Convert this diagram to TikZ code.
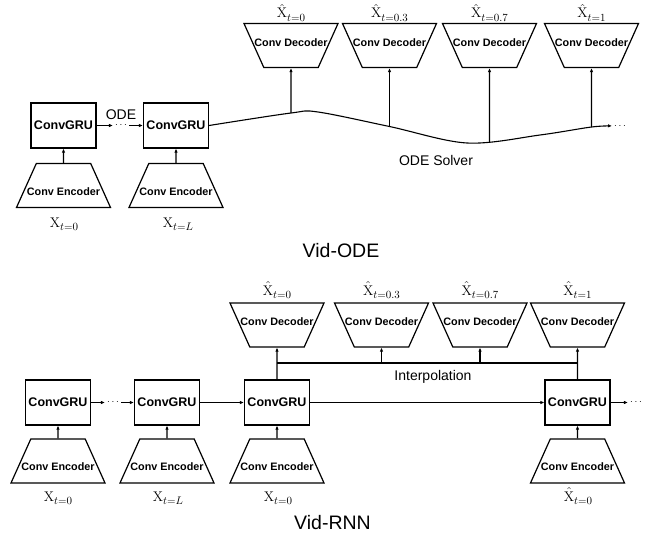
\documentclass[tikz,border=0pt]{standalone}
\usepackage{fontspec}
\setsansfont{Liberation Sans}
\usetikzlibrary{shapes.geometric,arrows.meta}
\newcommand{\tz}{\phantom{\rule{1pt}{1pt}}}
\newcommand{\lab}[2]{$#1$\raisebox{-3.5pt}{\fontsize{11}{12}\selectfont$#2$}}
\begin{document}
\begin{tikzpicture}[x=1pt,y=-1pt,
 gru/.style={draw,line width=1.2pt,minimum width=65pt,minimum height=45pt,inner sep=0pt,font=\sffamily\bfseries\fontsize{12.5}{14}\selectfont},
 enc/.style={draw,line width=1.2pt,trapezium,trapezium angle=70,trapezium stretches=true,minimum width=94pt,minimum height=44pt,inner sep=0pt},
 dec/.style={enc,shape border rotate=180},
 lbl/.style={font=\sffamily\bfseries\fontsize{10.8}{12}\selectfont,inner sep=0pt},
 mth/.style={font=\fontsize{14}{16}\selectfont,inner sep=0pt,anchor=base},
 txt/.style={font=\sffamily\fontsize{14}{16}\selectfont,inner sep=0pt,anchor=base},
 ttl/.style={font=\sffamily\fontsize{19.5}{22}\selectfont,inner sep=0pt,anchor=base},
 dts/.style={inner sep=2pt,font=\fontsize{10}{12}\selectfont},
 arr/.style={line width=1.1pt,-{Latex[length=4pt,width=3.5pt]}},
 ln/.style={line width=1.1pt}]
\useasboundingbox (0,0) rectangle (659,538);

% ---------------- Vid-ODE ----------------
\node[gru] (g1) at (63.5,125.5) {ConvGRU};
\node[gru] (g2) at (176,125.5) {ConvGRU};
\node[enc,label={[lbl,yshift=-6pt]center:Conv Encoder}] (e1) at (63.5,185.5) {\tz};
\node[enc,label={[lbl,yshift=-6pt]center:Conv Encoder}] (e2) at (176,185.5) {\tz};
\node[mth] (x1) at (64,227) {\lab{\mathrm{X}}{t{=}0}};
\node[mth] (x2) at (178,227) {\lab{\mathrm{X}}{t{=}L}};
\draw[arr] (e1.north) -- (g1.south);
\draw[arr] (e2.north) -- (g2.south);
\node[dts] (d1) at (121,125.5) {$\cdots$};
\draw[arr] (g1.east) -- (d1.west);
\draw[arr] (d1.east) -- (g2.west);
\node[txt] (ode) at (121,119) {ODE};

\node[dec,label={[lbl,yshift=3pt]center:Conv Decoder}] (o1) at (291,45.5) {\tz};
\node[dec,label={[lbl,yshift=3pt]center:Conv Decoder}] (o2) at (389.5,45.5) {\tz};
\node[dec,label={[lbl,yshift=3pt]center:Conv Decoder}] (o3) at (489.5,45.5) {\tz};
\node[dec,label={[lbl,yshift=3pt]center:Conv Decoder}] (o4) at (591.5,45.5) {\tz};
\node[mth] (y1) at (291,17.5) {\lab{\hat{\mathrm{X}}}{t{=}0}};
\node[mth] (y2) at (389.5,17.5) {\lab{\hat{\mathrm{X}}}{t{=}0.3}};
\node[mth] (y3) at (489.5,17.5) {\lab{\hat{\mathrm{X}}}{t{=}0.7}};
\node[mth] (y4) at (591.5,17.5) {\lab{\hat{\mathrm{X}}}{t{=}1}};

\coordinate (c1) at (291,113);
\coordinate (c2) at (389.5,126.5);
\coordinate (c3) at (489.5,142);
\coordinate (c4) at (591.5,127);
\coordinate (ca) at (318,112);
\coordinate (cb) at (467,143);
\coordinate (cc) at (540,135);
\node[dts] (d2) at (620,126) {$\cdots$};
\draw[arr] plot[smooth,tension=0.55] coordinates {(g2.east) (c1) (ca) (c2) (cb) (cc) (c4) (d2.west)};
\draw[arr] (c1) -- (o1);
\draw[arr] (c2) -- (o2);
\draw[arr] (c3) -- (o3);
\draw[arr] (c4) -- (o4);
\node[txt] (solver) at (436,165) {ODE Solver};
\node[ttl] (t1) at (341,257) {Vid-ODE};

% ---------------- Vid-RNN ----------------
\node[gru] (G1) at (58,402.5) {ConvGRU};
\node[gru] (G2) at (167,402.5) {ConvGRU};
\node[gru] (G3) at (277,402.5) {ConvGRU};
\node[gru] (G4) at (577.5,402.5) {ConvGRU};
\node[enc,label={[lbl,yshift=-6pt]center:Conv Encoder}] (E1) at (58,461) {\tz};
\node[enc,label={[lbl,yshift=-6pt]center:Conv Encoder}] (E2) at (167,461) {\tz};
\node[enc,label={[lbl,yshift=-6pt]center:Conv Encoder}] (E3) at (277,461) {\tz};
\node[enc,label={[lbl,yshift=-6pt]center:Conv Encoder}] (E4) at (577.5,461) {\tz};
\node[mth] (X1) at (58,501) {\lab{\mathrm{X}}{t{=}0}};
\node[mth] (X2) at (168,501) {\lab{\mathrm{X}}{t{=}L}};
\node[mth] (X3) at (278,501) {\lab{\mathrm{X}}{t{=}0}};
\node[mth] (X4) at (578,501) {\lab{\hat{\mathrm{X}}}{t{=}0}};
\draw[arr] (E1.north) -- (G1.south);
\draw[arr] (E2.north) -- (G2.south);
\draw[arr] (E3.north) -- (G3.south);
\draw[arr] (E4.north) -- (G4.south);
\node[dts] (D1) at (113,402.5) {$\cdots$};
\draw[arr] (G1.east) -- (D1.west);
\draw[arr] (D1.east) -- (G2.west);
\draw[arr] (G2) -- (G3);
\draw[arr] (G3) -- (G4);
\node[dts] (D2) at (636,402.5) {$\cdots$};
\draw[arr] (G4.east) -- (D2.west);

\node[dec,label={[lbl,yshift=3pt]center:Conv Decoder}] (P1) at (277,325) {\tz};
\node[dec,label={[lbl,yshift=3pt]center:Conv Decoder}] (P2) at (381.5,325) {\tz};
\node[dec,label={[lbl,yshift=3pt]center:Conv Decoder}] (P3) at (480,325) {\tz};
\node[dec,label={[lbl,yshift=3pt]center:Conv Decoder}] (P4) at (577.5,325) {\tz};
\node[mth] (Y1) at (277,295) {\lab{\hat{\mathrm{X}}}{t{=}0}};
\node[mth] (Y2) at (381.5,295) {\lab{\hat{\mathrm{X}}}{t{=}0.3}};
\node[mth] (Y3) at (480,295) {\lab{\hat{\mathrm{X}}}{t{=}0.7}};
\node[mth] (Y4) at (577.5,295) {\lab{\hat{\mathrm{X}}}{t{=}1}};
\coordinate (h1) at (277,363);
\coordinate (h2) at (381.5,363);
\coordinate (h3) at (480,363);
\coordinate (h4) at (577.5,363);
\draw[ln] (h1) -- (h4);
\draw[arr] (G3) -- (P1);
\draw[arr] (G4) -- (P4);
\draw[arr] (h2) -- (P2);
\draw[arr] (h3) -- (P3);
\node[txt] (interp) at (433,380) {Interpolation};
\node[ttl] (t2) at (332.5,529) {Vid-RNN};
\end{tikzpicture}
\end{document}
